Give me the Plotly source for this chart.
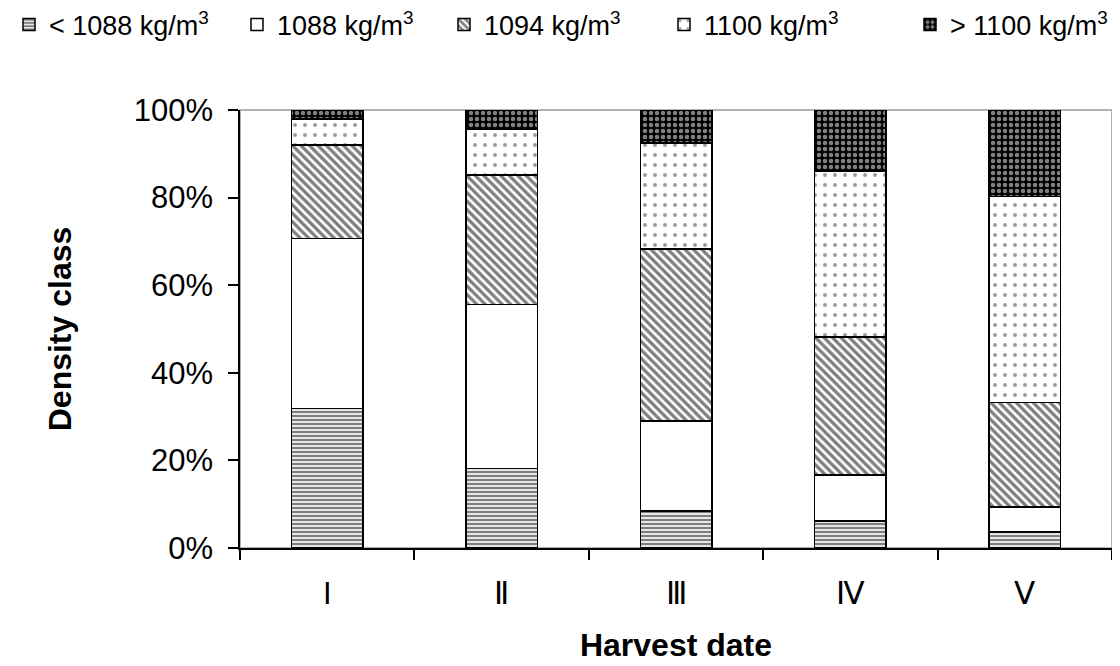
import plotly.graph_objects as go

categories = ["I", "Ⅱ", "Ⅲ", "Ⅳ", "Ⅴ"]
series_names = ["< 1088 kg/m<sup>3</sup>", "1088 kg/m<sup>3</sup>", "1094 kg/m<sup>3</sup>",
                "1100 kg/m<sup>3</sup>", "> 1100 kg/m<sup>3</sup>"]
lt1088 = [31.9, 18.2, 8.5, 6.2, 3.6]
d1088 = [38.8, 37.4, 20.5, 10.5, 5.8]
d1094 = [21.3, 29.6, 39.3, 31.5, 23.8]
d1100 = [5.9, 10.4, 24.2, 37.9, 47.0]
gt1100 = [2.1, 4.4, 7.5, 13.9, 19.8]
y_ticks = [0, 20, 40, 60, 80, 100]
y_tick_labels = ["0%", "20%", "40%", "60%", "80%", "100%"]

series = [lt1088, d1088, d1094, d1100, gt1100]
patterns = [
    dict(shape="-", fgcolor="black", bgcolor="white", size=4, solidity=0.6),
    dict(shape="", fgcolor="black", bgcolor="white"),
    dict(shape="\\", fgcolor="black", bgcolor="white", size=6, solidity=0.55),
    dict(shape=".", fgcolor="#333", bgcolor="white", size=10, solidity=0.12),
    dict(shape=".", fgcolor="white", bgcolor="black", size=6, solidity=0.45),
]
legend_x_px = [1, 229, 436, 656, 902]
legend_ids = ["legend", "legend2", "legend3", "legend4", "legend5"]

# page body has an 8px margin, so the figure is sized to fill the rest of the window
W, H = 1112, 658
fig = go.Figure()
for name, vals, pat, lid in zip(series_names, series, patterns, legend_ids):
    fig.add_trace(go.Bar(
        x=categories, y=vals, name=name, legend=lid, showlegend=True,
        marker=dict(color="white", line=dict(color="black", width=1.5), pattern=pat),
        width=0.41,
    ))

fig.add_shape(type="rect", xref="paper", yref="paper", x0=0, y0=0, x1=1, y1=1,
              line=dict(color="#999", width=1.5), layer="below")

legend_layout = {}
for lid, lx in zip(legend_ids, legend_x_px):
    legend_layout[lid] = dict(
        orientation="h", x=lx / W, xref="container", y=1 - 17 / H, yref="container",
        xanchor="left", yanchor="middle", font=dict(size=27), itemwidth=30,
        bgcolor="rgba(0,0,0,0)", visible=True,
    )

fig.update_layout(
    barmode="stack",
    width=W, height=H,
    showlegend=True,
    paper_bgcolor="white", plot_bgcolor="white",
    margin=dict(l=232, r=8, t=102, b=118),
    font=dict(family="Liberation Sans, Arial, sans-serif", color="black", size=31),
    xaxis=dict(
        title=dict(text="<b>Harvest date</b>", font=dict(size=32), standoff=24),
        showline=True, linecolor="black", linewidth=1.5,
        ticks="outside", tickson="boundaries", ticklen=10, tickcolor="black", tickwidth=1.5,
        tickfont=dict(size=31), showgrid=False, ticklabelstandoff=17,
    ),
    yaxis=dict(
        title=dict(text="<b>Density class</b>", font=dict(size=32), standoff=53),
        range=[0, 100], tickvals=y_ticks, ticktext=y_tick_labels,
        showline=True, linecolor="black", linewidth=1.5,
        ticks="outside", ticklen=10, tickcolor="black", tickwidth=1.5,
        tickfont=dict(size=31), showgrid=False, zeroline=False, ticklabelstandoff=9,
    ),
    **legend_layout,
)

fig.write_html("out.html")
